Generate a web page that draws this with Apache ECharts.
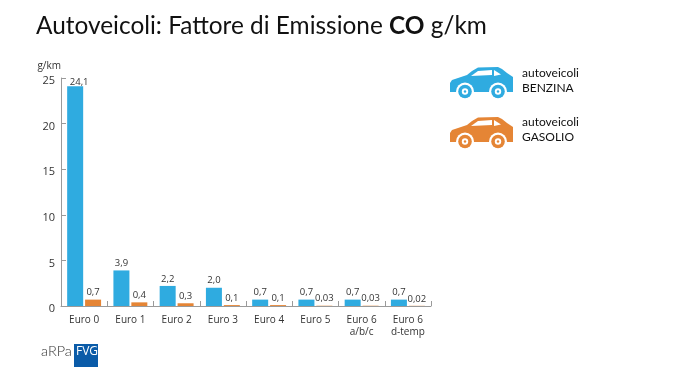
<!DOCTYPE html>
<html>
<head>
<meta charset="utf-8">
<style>
  html, body { margin: 0; padding: 0; background: #fff; }
  #chart { width: 674px; height: 373px; }
</style>
</head>
<body>
<div id="chart"></div>
<script src="https://cdn.jsdelivr.net/npm/echarts@6/dist/echarts.min.js"></script>
<script>
const categories = ["Euro 0", "Euro 1", "Euro 2", "Euro 3", "Euro 4", "Euro 5", "Euro 6\na/b/c", "Euro 6\nd-temp"];
const benzina = [24.1, 3.9, 2.2, 2.0, 0.7, 0.7, 0.7, 0.7];
const gasolio = [0.7, 0.4, 0.3, 0.1, 0.1, 0.03, 0.03, 0.02];
const benzinaLabels = ["24,1", "3,9", "2,2", "2,0", "0,7", "0,7", "0,7", "0,7"];
const gasolioLabels = ["0,7", "0,4", "0,3", "0,1", "0,1", "0,03", "0,03", "0,02"];

const BLUE = "#2fabe0";
const ORANGE = "#e58535";
const FONT = "Open Sans";
const TITLE_FONT = "Lato";

// icona auto: coordinate locali in px, sx/sy = angolo in alto a sinistra
const carIcon = (sx, sy, color) => {
  const body = [[0, 16], [2, 13], [17, 8], [22, 4], [28, 0.5], [48, 0], [52, 2], [57, 6], [63, 10], [63, 25], [0, 25]];
  const wheels = [15, 48];
  const wheel = (cx, r, fill) => ({ type: "circle", shape: { cx: cx, cy: 24.5, r: r }, style: { fill: fill } });
  return {
    type: "group",
    x: sx,
    y: sy,
    children: [
      { type: "polygon", shape: { points: body }, style: { fill: color } },
      { type: "polygon", shape: { points: [[21, 9], [28, 4], [42, 3], [42, 8]] }, style: { fill: "#fff" } },
      { type: "polygon", shape: { points: [[44, 3], [51, 7.5], [44, 9]] }, style: { fill: "#fff" } }
    ].concat(
      wheels.map((cx) => wheel(cx, 9, "#fff")),
      wheels.map((cx) => wheel(cx, 6.8, color)),
      wheels.map((cx) => wheel(cx, 3.2, "#fff")),
      wheels.map((cx) => wheel(cx, 1.2, color))
    )
  };
};

const legendText = (x, y, a, b) => ({
  type: "text",
  x: x,
  y: y,
  style: { text: a + "\n" + b, fill: "#111", font: "12px '" + TITLE_FONT + "'", lineHeight: 15 }
});

const myChart = echarts.init(document.getElementById("chart"));
const option = {
  animation: false,
  backgroundColor: "#fff",
  title: {
    left: 36,
    top: 14,
    padding: 0,
    text: "Autoveicoli: Fattore di Emissione {b|CO} g/km",
    textStyle: {
      fontFamily: TITLE_FONT,
      fontSize: 24.4,
      fontWeight: "normal",
      color: "#111",
      rich: {
        b: { fontFamily: TITLE_FONT, fontSize: 24.4, fontWeight: "bold", color: "#111" }
      }
    }
  },
  grid: { left: 61, right: 243, top: 78, bottom: 67 },
  xAxis: {
    type: "category",
    data: categories,
    axisLine: { show: true, lineStyle: { color: "#9a9a9a", width: 1 } },
    axisTick: { show: true, inside: true, length: 5, alignWithLabel: false, lineStyle: { color: "#9a9a9a" } },
    axisLabel: { color: "#333", fontFamily: FONT, fontSize: 10, margin: 8, lineHeight: 12, interval: 0 }
  },
  yAxis: {
    type: "value",
    min: 0,
    max: 25,
    interval: 5,
    name: "g/km",
    nameGap: 7,
    nameLocation: "end",
    nameTextStyle: { color: "#333", fontFamily: FONT, fontSize: 10, align: "right", padding: 0 },
    axisLine: { show: true, lineStyle: { color: "#9a9a9a", width: 1 } },
    axisTick: { show: true, inside: true, length: 5, lineStyle: { color: "#9a9a9a" } },
    axisLabel: {
      margin: 6,
      formatter: "{n|{value}}",
      rich: { n: { color: "#333", fontFamily: FONT, fontSize: 11, padding: [6, 0, 0, 0] } }
    },
    splitLine: { show: false }
  },
  series: [
    {
      name: "BENZINA",
      type: "bar",
      // il primo valore ha l'etichetta spostata come nell'originale
      data: benzina.map((v, i) => (i === 0 ? { value: v, label: { offset: [4, 3] } } : v)),
      barWidth: 16,
      barGap: "12%",
      itemStyle: { color: BLUE },
      label: {
        show: true,
        position: "top",
        distance: 2,
        color: "#333",
        fontFamily: FONT,
        fontSize: 9.5,
        formatter: (p) => benzinaLabels[p.dataIndex]
      }
    },
    {
      name: "GASOLIO",
      type: "bar",
      data: gasolio,
      barWidth: 16,
      itemStyle: { color: ORANGE },
      label: {
        show: true,
        position: "top",
        distance: 2,
        color: "#333",
        fontFamily: FONT,
        fontSize: 9.5,
        formatter: (p) => gasolioLabels[p.dataIndex]
      }
    }
  ],
  graphic: [
    carIcon(450, 67, BLUE),
    carIcon(450, 117, ORANGE),
    legendText(522, 66, "autoveicoli", "BENZINA"),
    legendText(522, 115, "autoveicoli", "GASOLIO"),
    { type: "text", x: 41, y: 344, style: { text: "aRPa", fill: "#333", font: "300 14.5px Lato" } },
    { type: "rect", shape: { x: 74, y: 344, width: 24, height: 23 }, style: { fill: "#0a5ba8" } },
    { type: "text", x: 76, y: 346, style: { text: "FVG", fill: "#fff", font: "12px 'Open Sans'" } }
  ]
};
myChart.setOption(option);
</script>
</body>
</html>
